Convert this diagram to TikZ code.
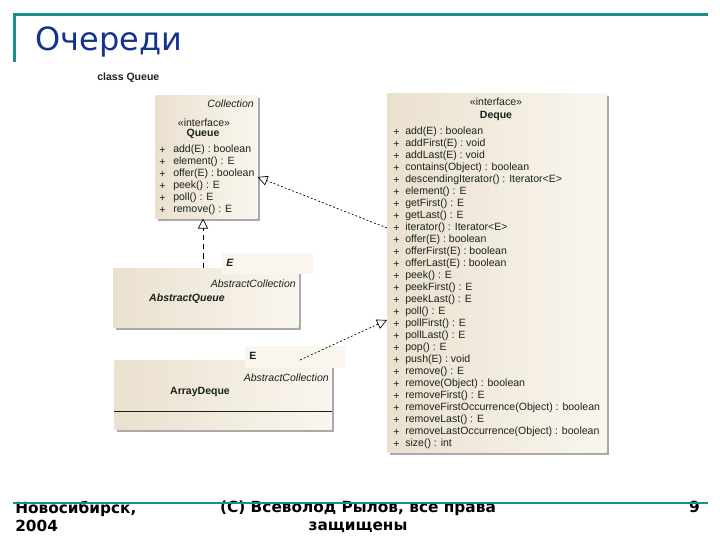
\documentclass[tikz,border=0pt]{standalone}
\usepackage{fontspec}
\usetikzlibrary{arrows.meta,shadows}
\newfontfamily\umlfont{Liberation Sans}
\newfontfamily\slidefont{DejaVu Sans}
\definecolor{slideteal}{RGB}{26,143,143}
\definecolor{titleblue}{RGB}{20,52,140}
\definecolor{boxdark}{RGB}{234,224,206}
\definecolor{boxlight}{RGB}{250,246,239}
\definecolor{shadowgray}{RGB}{170,170,170}
\definecolor{umlink}{RGB}{25,35,30}
\tikzset{
	classbox/.style={anchor=north west, inner sep=0pt,
		left color=boxdark, right color=boxlight,
		drop shadow={shadow xshift=2pt, shadow yshift=-2pt, opacity=1, fill=shadowgray}},
	parambox/.style={anchor=north west, inner sep=0pt, fill=boxlight},
	umltext/.style={inner sep=0pt, text=umlink, font=\umlfont\fontsize{7.9}{9}\selectfont},
	member/.style={umltext, anchor=west},
	realizes/.style={draw=black, line width=0.5pt, dash pattern=on 1.5pt off 1.5pt,
		-{Triangle[open, length=7.5pt, width=7.5pt]}},
	footer/.style={inner sep=0pt, font=\slidefont\bfseries\fontsize{11.5}{13.5}\selectfont}
}

\begin{document}
\begin{tikzpicture}[x=0.75pt,y=0.75pt,yscale=-1,xscale=1]
\useasboundingbox (0,0) rectangle (720,540);

% slide title
\draw [slideteal, line width=2.25pt] (13,14) -- (708,14);
\draw [slideteal, line width=2.25pt] (14,13) -- (14,62);
\node (title) [anchor=west, inner sep=0pt, text=titleblue, font=\slidefont\fontsize{24}{29}\selectfont] at (35,42) {Очереди};

\node (frame) [umltext, anchor=west, font=\umlfont\bfseries\fontsize{7.9}{9}\selectfont] at (97,78) {class Queue};

% class boxes
\node (queue) [classbox, minimum width=76.5pt, minimum height=92.25pt] at (155,95) {};
\node (deque) [classbox, minimum width=164.25pt, minimum height=269.25pt] at (387,93) {};
\node (absqueue) [classbox, minimum width=138.75pt, minimum height=44.25pt] at (113,268) {};
\node (arraydeque) [classbox, minimum width=162.75pt, minimum height=51.75pt] at (114,360) {};
\node (absparam) [parambox, minimum width=68.25pt, minimum height=15.75pt] at (222,253) {};
\node (arrparam) [parambox, minimum width=75pt, minimum height=16.5pt] at (245,346) {};
\draw [umlink, line width=0.6pt] (arraydeque.west |- 0,411) -- (arraydeque.east |- 0,411);

% Queue
\node (qsuper) [umltext, anchor=east, font=\umlfont\itshape\fontsize{7.9}{9}\selectfont] at (254,104) {Collection};
\node (qstereo) [umltext] at (204,123) {«interface»};
\node (qname) [umltext, font=\umlfont\bfseries\fontsize{7.9}{9}\selectfont] at (203,134) {Queue};
\foreach \m [count=\i from 0] in {add(E) : boolean, element() : E, offer(E) : boolean,
		peek() : E, poll() : E, remove() : E}{
	\node (qp\i) [member] at (159,{150+12*\i}) {+};
	\node (qm\i) [member] at (173,{150+12*\i}) {\m};
}

% Deque
\node (dstereo) [umltext] at (496,102) {«interface»};
\node (dname) [umltext, font=\umlfont\bfseries\fontsize{7.9}{9}\selectfont] at (496,116) {Deque};
\foreach \m [count=\i from 0] in {add(E) : boolean, addFirst(E) : void, addLast(E) : void,
		contains(Object) : boolean, descendingIterator() : Iterator<E>, element() : E,
		getFirst() : E, getLast() : E, iterator() : Iterator<E>, offer(E) : boolean,
		offerFirst(E) : boolean, offerLast(E) : boolean, peek() : E, peekFirst() : E,
		peekLast() : E, poll() : E, pollFirst() : E, pollLast() : E, pop() : E,
		push(E) : void, remove() : E, remove(Object) : boolean, removeFirst() : E,
		removeFirstOccurrence(Object) : boolean, removeLast() : E,
		removeLastOccurrence(Object) : boolean, size() : int}{
	\node (dp\i) [member] at (393,{132+12*\i}) {+};
	\node (dm\i) [member] at (405,{132+12*\i}) {\m};
}

% AbstractQueue
\node (abse) [member, font=\umlfont\bfseries\itshape\fontsize{7.9}{9}\selectfont] at (226,263) {E};
\node (abssuper) [umltext, anchor=east, font=\umlfont\itshape\fontsize{7.9}{9}\selectfont] at (296,284) {AbstractCollection};
\node (absname) [umltext, font=\umlfont\bfseries\itshape\fontsize{7.9}{9}\selectfont] at (187,299) {AbstractQueue};

% ArrayDeque
\node (arre) [member, font=\umlfont\bfseries\fontsize{7.9}{9}\selectfont] at (249,356) {E};
\node (arrsuper) [umltext, anchor=east, font=\umlfont\itshape\fontsize{7.9}{9}\selectfont] at (329,378) {AbstractCollection};
\node (arrname) [umltext, font=\umlfont\bfseries\fontsize{7.9}{9}\selectfont] at (200,392) {ArrayDeque};

% realizations
\draw [realizes] (deque.west |- 0,228) -- (queue.east |- 0,177);
\draw [realizes, dash pattern=on 4pt off 3pt] (absqueue.north -| 203,0) -- (queue.south -| 203,0);
\draw [realizes] (arraydeque.north -| 300,0) -- (deque.west |- 0,320);

% footer
\node (city) [footer, anchor=north west, align=left] at (15,501) {Новосибирск,\\2004};
\node (rights) [footer, anchor=north, align=center] at (358,501) {(C) Всеволод Рылов, все права\\защищены};
\node (page) [footer, anchor=north east] at (700,501) {9};
\draw [slideteal, line width=2pt] (13,503) -- (708,503);

\end{tikzpicture}
\end{document}
